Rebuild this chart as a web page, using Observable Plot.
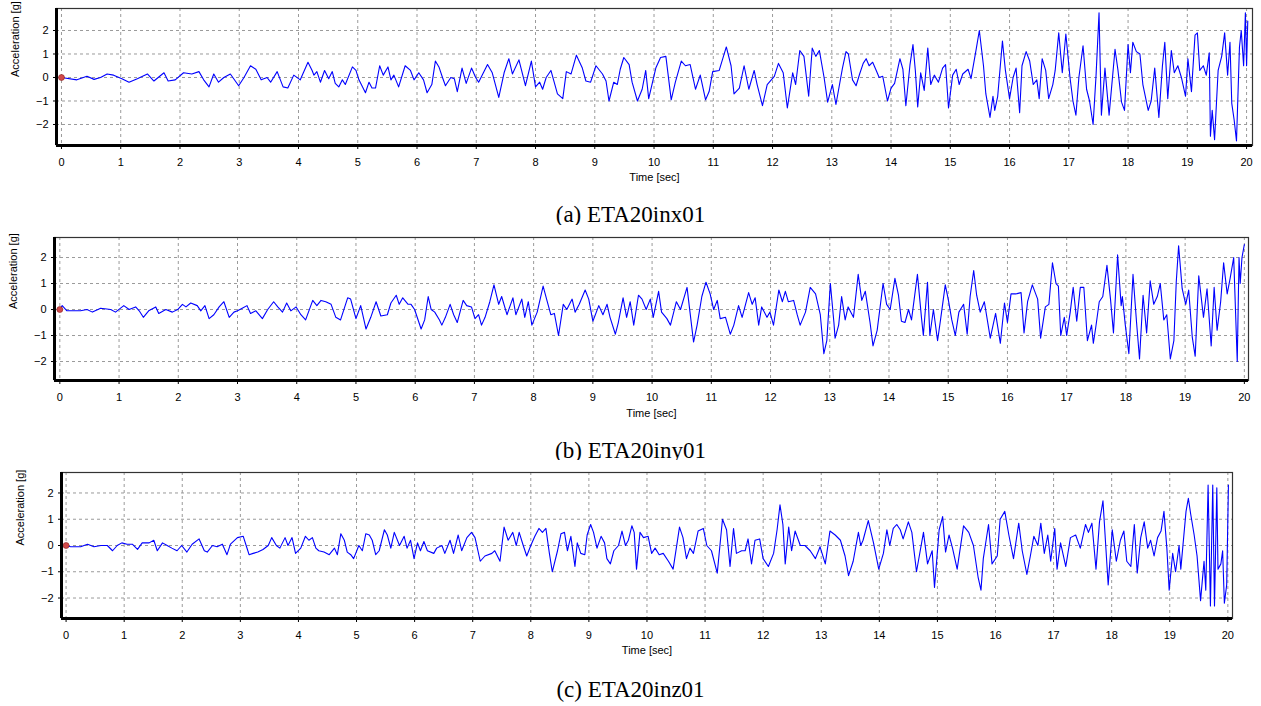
<!DOCTYPE html>
<html><head><meta charset="utf-8">
<script src="https://cdn.jsdelivr.net/npm/d3@7"></script>
<script src="https://cdn.jsdelivr.net/npm/@observablehq/plot@0.6"></script>
<style>
html,body{margin:0;padding:0;background:#fff}
body{width:1261px;height:706px;overflow:hidden;position:relative}
.panel{position:absolute;left:0}
.panel svg{display:block}
.cap{position:absolute;left:0;width:1261px;text-align:center;font-family:"Liberation Serif","Times New Roman",serif;font-size:23px;line-height:26px;color:#000}
</style></head><body>
<script>
// ---- data (time [s], acceleration [g]) ----
const accX = [[0,0],[0.26,-0.1],[0.43,0.05],[0.55,-0.08],[0.66,0],[0.77,0.15],[0.88,0.1],[1.02,-0.05],[1.14,-0.2],[1.28,-0.05],[1.45,0.15],[1.56,-0.15],[1.73,0.2],[1.8,-0.15],[1.92,-0.1],[2.06,0.2],[2.2,0.15],[2.32,0.25],[2.4,-0.1],[2.49,-0.4],[2.57,0.15],[2.65,-0.2],[2.74,0],[2.85,0.15],[2.99,-0.35],[3.08,0],[3.19,0.5],[3.28,0.35],[3.37,-0.1],[3.47,0],[3.53,-0.2],[3.64,0.25],[3.74,-0.4],[3.82,-0.45],[3.92,0.1],[4.03,-0.1],[4.16,0.65],[4.23,0.3],[4.26,0.1],[4.31,0.25],[4.37,-0.2],[4.44,0.3],[4.51,-0.05],[4.57,0.25],[4.62,-0.25],[4.68,-0.4],[4.74,-0.1],[4.79,-0.3],[4.91,0.45],[4.97,0.3],[5.02,-0.1],[5.13,-0.65],[5.19,-0.2],[5.24,-0.45],[5.3,-0.45],[5.37,0.5],[5.43,0.1],[5.51,0.45],[5.56,-0.1],[5.61,0.1],[5.69,-0.4],[5.8,0.5],[5.89,0.3],[5.95,-0.1],[6.03,0.2],[6.11,-0.1],[6.17,-0.65],[6.25,-0.3],[6.31,0.7],[6.37,0.45],[6.43,0],[6.48,-0.35],[6.57,0],[6.63,-0.05],[6.68,-0.6],[6.76,0.4],[6.83,-0.25],[6.92,0.4],[6.99,0],[7.04,-0.2],[7.19,0.55],[7.27,0.2],[7.38,-0.85],[7.47,0.2],[7.55,0.8],[7.61,0.15],[7.72,0.75],[7.83,-0.35],[7.93,0.7],[8.0,-0.4],[8.07,-0.2],[8.12,-0.5],[8.18,0],[8.26,0.3],[8.37,-0.7],[8.46,-0.9],[8.52,0.25],[8.6,0.15],[8.69,0.95],[8.79,0.4],[8.85,-0.15],[8.93,-0.2],[9.02,0.5],[9.13,0.15],[9.19,-0.15],[9.24,-1.0],[9.32,-0.2],[9.38,-0.3],[9.43,0.35],[9.49,0.85],[9.58,0.55],[9.63,-0.2],[9.72,-1.0],[9.8,-0.5],[9.86,0.3],[9.91,-0.9],[10.03,0.4],[10.11,0.85],[10.2,0.9],[10.29,-0.95],[10.36,-0.2],[10.46,0.7],[10.53,0.5],[10.61,0.55],[10.7,-0.5],[10.78,0.1],[10.87,-0.95],[10.93,-0.6],[10.99,0.25],[11.1,0.3],[11.22,1.3],[11.3,0.5],[11.35,-0.7],[11.44,-0.45],[11.52,0.5],[11.6,-0.5],[11.69,0.3],[11.74,-0.3],[11.83,-1.2],[11.91,-0.3],[12.03,0.05],[12.1,0.6],[12.18,0.2],[12.25,-1.3],[12.34,0.2],[12.39,-0.3],[12.46,1.15],[12.53,0.9],[12.61,-0.8],[12.67,1.25],[12.73,0.9],[12.79,1.15],[12.87,0],[12.93,-1.05],[13.01,-0.3],[13.07,-1.15],[13.18,0.4],[13.24,1.1],[13.28,1.0],[13.35,-0.1],[13.41,-0.35],[13.47,0.15],[13.53,0.6],[13.58,0.8],[13.63,0.5],[13.69,0.65],[13.75,0.3],[13.8,0],[13.86,0.05],[13.94,-1.0],[14.0,-0.45],[14.06,-0.25],[14.15,0.8],[14.2,0.35],[14.25,-1.2],[14.32,0.55],[14.37,1.4],[14.41,0.3],[14.45,-1.25],[14.5,0.2],[14.56,-0.55],[14.62,1.25],[14.67,-0.3],[14.73,0.1],[14.8,-0.2],[14.87,0.4],[14.92,0.55],[14.97,-1.3],[15.04,0.1],[15.1,0.35],[15.15,-0.3],[15.21,0.15],[15.3,0.35],[15.35,-0.05],[15.44,1.25],[15.49,2.0],[15.56,0.5],[15.6,-0.7],[15.67,-1.7],[15.72,-0.8],[15.75,-1.4],[15.8,-0.8],[15.88,1.55],[15.93,0.3],[16.0,-0.9],[16.06,0],[16.11,0.4],[16.17,-1.5],[16.21,0.5],[16.28,1.1],[16.34,0.7],[16.4,-0.3],[16.46,-0.1],[16.5,-0.9],[16.55,0.8],[16.61,0.3],[16.66,-0.9],[16.73,-0.3],[16.77,0.3],[16.83,1.9],[16.89,0.2],[16.95,1.85],[17.02,0],[17.07,-1.0],[17.12,-1.6],[17.17,0],[17.24,1.35],[17.3,-0.5],[17.35,-1.0],[17.41,-2.0],[17.46,0.1],[17.51,2.75],[17.55,-1.6],[17.61,0.4],[17.68,-1.6],[17.78,1.2],[17.83,0.3],[17.89,-1.05],[17.94,-1.4],[18.0,1.4],[18.04,0.2],[18.08,1.5],[18.14,1.1],[18.2,1.0],[18.25,-0.3],[18.34,-1.4],[18.39,-1.0],[18.45,0.4],[18.52,-1.7],[18.58,0.5],[18.62,1.5],[18.67,-0.9],[18.73,1.15],[18.78,0.2],[18.84,0.5],[18.9,0],[18.97,-0.8],[19.01,0.8],[19.07,-0.6],[19.13,1.8],[19.17,1.9],[19.21,0.3],[19.27,0.5],[19.32,0.1],[19.37,1.05],[19.39,-2.5],[19.42,-1.4],[19.46,-2.65],[19.52,0.3],[19.58,0.9],[19.63,1.9],[19.68,0.1],[19.72,1.5],[19.75,-1.1],[19.79,-1.8],[19.83,-2.7],[19.88,1.3],[19.91,2.0],[19.95,0.5],[19.98,2.75],[20.0,0.5],[20.02,2.4]];

const accY = [[0,0],[0.04,0.15],[0.12,-0.05],[0.35,-0.05],[0.46,0],[0.55,-0.1],[0.69,0.05],[0.86,0],[0.94,-0.1],[1.08,0.15],[1.17,0],[1.28,0.1],[1.34,-0.05],[1.41,-0.3],[1.5,-0.05],[1.62,0.1],[1.67,-0.15],[1.79,0],[1.9,-0.1],[1.99,0],[2.07,0.2],[2.13,0.1],[2.21,0.25],[2.32,0.15],[2.38,-0.05],[2.45,0.15],[2.52,-0.35],[2.6,-0.2],[2.69,0.1],[2.77,0.3],[2.86,-0.3],[2.94,-0.1],[3.0,-0.05],[3.08,0.05],[3.16,0.15],[3.22,-0.15],[3.31,-0.05],[3.42,-0.35],[3.51,0],[3.61,0.3],[3.68,0.1],[3.76,-0.1],[3.83,0.25],[3.9,-0.05],[3.99,0.1],[4.07,-0.2],[4.15,-0.4],[4.27,0.35],[4.34,0.15],[4.41,0.35],[4.49,0.3],[4.58,0.2],[4.66,-0.3],[4.74,-0.4],[4.86,0.45],[4.91,0.4],[5.0,-0.35],[5.08,0.15],[5.17,-0.75],[5.25,-0.3],[5.34,0.3],[5.42,-0.25],[5.53,-0.2],[5.59,0.25],[5.68,0.55],[5.73,0.2],[5.79,0.45],[5.88,0.2],[5.93,0.2],[5.99,0],[6.1,-0.75],[6.16,-0.4],[6.22,0.5],[6.27,0],[6.33,-0.1],[6.41,-0.4],[6.45,-0.6],[6.51,-0.3],[6.59,0.2],[6.65,-0.2],[6.71,-0.5],[6.81,0.35],[6.87,0.15],[6.95,0.1],[7.01,-0.35],[7.07,-0.2],[7.12,-0.6],[7.18,-0.3],[7.26,0.3],[7.33,0.95],[7.41,0.2],[7.46,0.5],[7.55,-0.2],[7.65,0.45],[7.7,-0.2],[7.8,0.4],[7.85,-0.3],[7.91,0.3],[7.97,-0.6],[8.06,-0.1],[8.16,0.9],[8.23,0.3],[8.29,-0.2],[8.35,-0.15],[8.42,-1.0],[8.5,0.2],[8.56,0],[8.65,0.4],[8.7,-0.1],[8.77,0.2],[8.87,0.75],[8.93,0.4],[9.0,-0.45],[9.1,0.15],[9.17,-0.2],[9.24,0.2],[9.29,-0.3],[9.38,-0.95],[9.43,-0.5],[9.51,0.45],[9.57,-0.3],[9.63,0.3],[9.69,-0.6],[9.77,0.55],[9.83,0.4],[9.9,0],[9.97,0.4],[10.02,-0.3],[10.11,0.7],[10.16,-0.1],[10.25,-0.35],[10.31,-0.6],[10.41,0.3],[10.48,0],[10.59,0.85],[10.64,-0.1],[10.7,-1.25],[10.76,-0.6],[10.84,0.5],[10.91,1.05],[10.98,0.6],[11.04,0],[11.1,0.35],[11.15,-0.35],[11.24,-0.3],[11.32,-0.95],[11.38,-0.6],[11.46,0.15],[11.52,-0.3],[11.63,0.65],[11.69,0.2],[11.74,0.45],[11.8,-0.6],[11.85,0.1],[11.94,-0.3],[11.99,-0.1],[12.05,-0.6],[12.14,0.75],[12.2,0.3],[12.25,0.7],[12.3,0.3],[12.39,0.35],[12.45,-0.2],[12.5,-0.6],[12.59,-0.1],[12.67,0.85],[12.76,0.6],[12.84,-0.2],[12.9,-1.7],[12.95,-1.2],[13.01,1.0],[13.07,-0.5],[13.09,-1.1],[13.15,-0.6],[13.2,0.5],[13.26,-0.4],[13.31,0.1],[13.4,-0.3],[13.48,1.35],[13.54,0.35],[13.6,0.7],[13.68,-0.5],[13.73,-1.4],[13.8,-0.8],[13.9,1.0],[13.96,0.2],[14.02,0],[14.1,1.2],[14.16,0.55],[14.21,-0.45],[14.27,-0.5],[14.33,0],[14.38,-0.4],[14.48,1.35],[14.55,-0.35],[14.58,-1.0],[14.65,1.05],[14.69,-1.0],[14.75,0],[14.82,-1.2],[14.87,-0.4],[14.95,0.95],[15.0,0.4],[15.06,-0.4],[15.12,-1.0],[15.18,-0.1],[15.26,0.2],[15.32,-0.95],[15.37,0.5],[15.43,1.5],[15.48,0.55],[15.54,-0.1],[15.61,0.3],[15.71,-1.1],[15.8,-0.15],[15.88,-1.3],[15.95,0.25],[16.0,-0.5],[16.06,0.6],[16.14,0.6],[16.23,0.65],[16.28,-0.9],[16.34,0.3],[16.42,0.95],[16.51,0.4],[16.56,-1.1],[16.64,0.1],[16.7,0.2],[16.76,1.8],[16.82,1.0],[16.86,0.9],[16.9,-1.0],[16.96,-0.3],[17.0,-1.0],[17.06,-0.1],[17.11,0.85],[17.17,-0.45],[17.23,0.85],[17.29,0.85],[17.35,-1.2],[17.42,-0.6],[17.45,-1.3],[17.49,-0.7],[17.55,0.3],[17.61,0.5],[17.68,1.7],[17.74,0.4],[17.79,-0.9],[17.86,2.1],[17.92,0.15],[17.94,0.5],[17.99,-0.6],[18.05,-1.7],[18.12,1.35],[18.18,-0.5],[18.23,-1.9],[18.29,0.55],[18.35,-0.9],[18.41,1.1],[18.47,0.2],[18.53,0.5],[18.58,1.0],[18.64,-0.4],[18.69,-0.2],[18.75,-1.9],[18.81,-1.2],[18.85,1.05],[18.89,2.45],[18.95,0.8],[19.01,0.2],[19.06,0.75],[19.12,-1.05],[19.17,-1.8],[19.23,1.3],[19.31,-0.3],[19.37,0.8],[19.44,-1.4],[19.49,0.85],[19.54,-0.8],[19.6,0.3],[19.65,1.8],[19.71,0.6],[19.76,1.2],[19.82,2.0],[19.88,-2.0],[19.91,2.0],[19.93,1.0],[19.96,2.0],[20.0,2.5]];

const accZ = [[0,0],[0.08,-0.05],[0.25,-0.05],[0.37,0.05],[0.48,-0.05],[0.6,0],[0.71,0],[0.8,-0.2],[0.88,0],[0.96,0.1],[1.05,0.05],[1.14,0.05],[1.23,-0.15],[1.31,0.1],[1.43,0.1],[1.51,0.2],[1.57,-0.2],[1.66,0.1],[1.74,0],[1.82,-0.1],[1.91,-0.2],[1.99,0],[2.08,-0.25],[2.17,0.05],[2.29,0.25],[2.38,-0.2],[2.43,-0.25],[2.52,0],[2.6,-0.05],[2.69,0.05],[2.77,-0.35],[2.83,0.05],[2.95,0.3],[3.05,0.35],[3.1,0],[3.15,-0.35],[3.22,-0.3],[3.3,-0.25],[3.39,-0.15],[3.48,0],[3.54,0.3],[3.62,0],[3.68,-0.1],[3.77,0.3],[3.82,0],[3.89,0.3],[3.95,-0.3],[4.04,-0.1],[4.12,0.35],[4.18,0.2],[4.24,0.3],[4.3,-0.1],[4.35,-0.2],[4.44,-0.25],[4.53,-0.35],[4.62,-0.1],[4.67,-0.35],[4.73,0.45],[4.79,0.2],[4.84,-0.25],[4.9,-0.35],[4.95,-0.5],[5.04,0],[5.1,-0.2],[5.16,0.45],[5.22,0.4],[5.27,0.2],[5.33,-0.35],[5.39,-0.2],[5.48,0.6],[5.53,0.4],[5.59,-0.1],[5.65,0.5],[5.74,0],[5.82,0.35],[5.87,-0.1],[5.93,0.2],[5.99,-0.5],[6.05,0.1],[6.1,-0.2],[6.16,0.15],[6.22,-0.2],[6.33,-0.3],[6.38,-0.1],[6.47,0],[6.52,-0.3],[6.61,0.2],[6.67,-0.3],[6.75,0.4],[6.81,-0.2],[6.9,0.3],[6.98,0.5],[7.04,0.3],[7.13,-0.6],[7.21,-0.4],[7.33,-0.3],[7.38,-0.2],[7.47,-0.6],[7.54,0.7],[7.61,0.2],[7.69,0.5],[7.75,0],[7.8,0.5],[7.87,0],[7.93,-0.4],[8.0,0],[8.07,0.35],[8.14,0.65],[8.2,0.5],[8.26,0.65],[8.32,-0.3],[8.37,-1.0],[8.46,-0.2],[8.52,0.45],[8.58,0.5],[8.63,-0.2],[8.69,0.35],[8.76,-0.8],[8.8,0.1],[8.86,-0.3],[8.93,-0.35],[8.97,0.4],[9.03,0.8],[9.08,0.5],[9.14,-0.1],[9.21,0.35],[9.27,0.1],[9.31,-0.5],[9.37,-0.7],[9.43,-0.2],[9.51,0],[9.57,0.55],[9.63,0],[9.68,0.2],[9.74,0.75],[9.78,0.5],[9.82,-0.9],[9.88,0.5],[9.94,0.3],[10.02,0.35],[10.08,-0.3],[10.14,-0.1],[10.21,-0.35],[10.28,-0.3],[10.37,-0.6],[10.45,-0.9],[10.56,0.7],[10.62,0.3],[10.68,-0.5],[10.74,-0.1],[10.8,-0.3],[10.88,0.55],[10.97,0.65],[11.03,0],[11.11,-0.2],[11.21,-1.05],[11.3,1.0],[11.37,0.6],[11.43,-0.8],[11.49,0.65],[11.54,-0.3],[11.63,-0.2],[11.69,-0.2],[11.74,0.25],[11.8,-0.7],[11.86,0.2],[11.94,0.25],[12.0,-0.5],[12.09,-0.8],[12.18,-0.3],[12.24,0.6],[12.29,1.55],[12.34,0.8],[12.38,-0.7],[12.44,0.7],[12.49,-0.2],[12.55,0.55],[12.64,0],[12.72,0],[12.81,-0.2],[12.9,-0.5],[12.98,-0.05],[13.07,-0.7],[13.15,0.55],[13.24,0.4],[13.33,0.2],[13.41,-0.4],[13.47,-1.15],[13.55,-0.6],[13.64,0.5],[13.68,0],[13.72,0.2],[13.81,0.95],[13.9,0.1],[13.99,-0.9],[14.07,-0.3],[14.13,0.6],[14.18,0],[14.24,0.65],[14.3,0.8],[14.36,0.6],[14.41,0.25],[14.5,0.9],[14.56,0.5],[14.64,-1.0],[14.76,0.5],[14.83,-0.7],[14.91,-0.2],[14.95,-1.6],[15.03,0.6],[15.09,1.1],[15.14,-0.25],[15.2,0.4],[15.26,-0.1],[15.34,-0.9],[15.45,0.75],[15.54,0.5],[15.62,0],[15.7,-1.2],[15.75,-1.7],[15.79,-0.5],[15.88,0.8],[15.94,-0.7],[16.03,-0.4],[16.08,1.0],[16.16,1.3],[16.23,0.4],[16.31,-0.5],[16.4,0.85],[16.46,-0.2],[16.54,-1.1],[16.6,-0.4],[16.66,0.35],[16.73,0],[16.78,0.85],[16.84,-0.3],[16.9,0.4],[16.95,-0.6],[17.02,0.65],[17.06,-0.9],[17.12,0.1],[17.21,-0.8],[17.29,0.3],[17.38,0.4],[17.46,-0.1],[17.55,0.8],[17.6,0.5],[17.66,0.85],[17.73,-0.9],[17.79,0.9],[17.85,1.7],[17.92,-0.8],[17.94,-1.5],[18.01,0.6],[18.08,-0.6],[18.15,0.2],[18.21,0.55],[18.26,-0.6],[18.33,-0.8],[18.39,0.8],[18.44,-1.05],[18.5,0.3],[18.56,0.9],[18.62,-0.1],[18.67,0.2],[18.73,-0.4],[18.79,0.3],[18.85,0.55],[18.9,1.3],[18.95,-0.1],[18.99,-1.7],[19.05,-0.3],[19.1,-1.0],[19.16,0],[19.19,-0.9],[19.28,1.3],[19.32,1.8],[19.36,1.2],[19.42,0.4],[19.47,-0.4],[19.53,-2.1],[19.59,-0.6],[19.62,-1.7],[19.66,2.3],[19.7,-2.3],[19.74,2.3],[19.77,-2.3],[19.81,2.2],[19.83,-0.9],[19.88,-0.7],[19.91,-0.2],[19.94,-2.2],[19.98,-1.5],[20.01,2.3]];

const captions = ["(a) ETA20inx01", "(b) ETA20iny01", "(c) ETA20inz01"];
const xTicks = [0,1,2,3,4,5,6,7,8,9,10,11,12,13,14,15,16,17,18,19,20];
const yTicks = [-2,-1,0,1,2];
const xLabel = "Time [sec]";
const yLabel = "Acceleration [g]";

// ---- layout ----
const panels = [
  {data: accX, top: 0,   height: 190, ml: 56, mr: 9,  mt: 8,  mb: 45, xd: [-0.084, 20.1],  yd: [-2.894, 2.936], cap: 215, xlab: 32},
  {data: accY, top: 225, height: 200, ml: 54, mr: 13, mt: 12, mb: 45, xd: [-0.09, 20.07],  yd: [-2.73, 2.77],   cap: 451, xlab: 33},
  {data: accZ, top: 460, height: 200, ml: 61, mr: 29, mt: 12, mb: 42, xd: [-0.079, 20.08], yd: [-2.78, 2.78],   cap: 690, xlab: 32}
];
const minorTicks = d3.range(0, 101).map(i => i / 5).filter(v => Math.abs(v - Math.round(v)) > 1e-6);

panels.forEach((p, i) => {
  const rows = p.data.map(([t, a]) => ({t, a}));
  const svg = Plot.plot({
    width: 1261, height: p.height,
    marginLeft: p.ml, marginRight: p.mr, marginTop: p.mt, marginBottom: p.mb,
    style: {fontFamily: "'Liberation Sans', Arial, sans-serif", fontSize: "11px", color: "#000", background: "#fff"},
    x: {domain: p.xd},
    y: {domain: p.yd},
    marks: [
      Plot.gridX(xTicks, {stroke: "#9a9a9a", strokeOpacity: 1, strokeDasharray: "3,3"}),
      Plot.gridY(yTicks, {stroke: "#9a9a9a", strokeOpacity: 1, strokeDasharray: "3,3"}),
      Plot.line(rows, {x: "t", y: "a", stroke: "#0000ff", strokeWidth: 1.1}),
      Plot.dot([{t: 0, a: 0}], {x: "t", y: "a", r: 3, fill: "#d24a4a", stroke: "#8a2020", strokeWidth: 0.6}),
      Plot.frame({stroke: "#333", strokeWidth: 1.2}),
      Plot.ruleX([p.xd[0]], {stroke: "#000", strokeWidth: 3}),
      Plot.ruleY([p.yd[0]], {stroke: "#000", strokeWidth: 3}),
      Plot.axisX(minorTicks, {tickSize: 2, text: null, stroke: "#000", label: null}),
      Plot.axisX(xTicks, {tickSize: 4, tickPadding: 9, fontSize: 11, stroke: "#000", fill: "#000", label: null}),
      Plot.axisY(yTicks, {tickSize: 3, tickPadding: 5, fontSize: 11, stroke: "#000", fill: "#000", label: null}),
      Plot.text([yLabel], {frameAnchor: "left", rotate: -90, dx: -41, fontSize: 11, fill: "#000"}),
      Plot.text([xLabel], {frameAnchor: "bottom", lineAnchor: "middle", dy: p.xlab, fontSize: 11, fill: "#000"})
    ]
  });
  const wrap = document.createElement("div");
  wrap.className = "panel";
  wrap.style.top = p.top + "px";
  wrap.appendChild(svg);
  document.body.appendChild(wrap);
  const cap = document.createElement("div");
  cap.className = "cap";
  cap.style.top = (p.cap - 13) + "px";
  cap.textContent = captions[i];
  document.body.appendChild(cap);
});
</script>
</body></html>
